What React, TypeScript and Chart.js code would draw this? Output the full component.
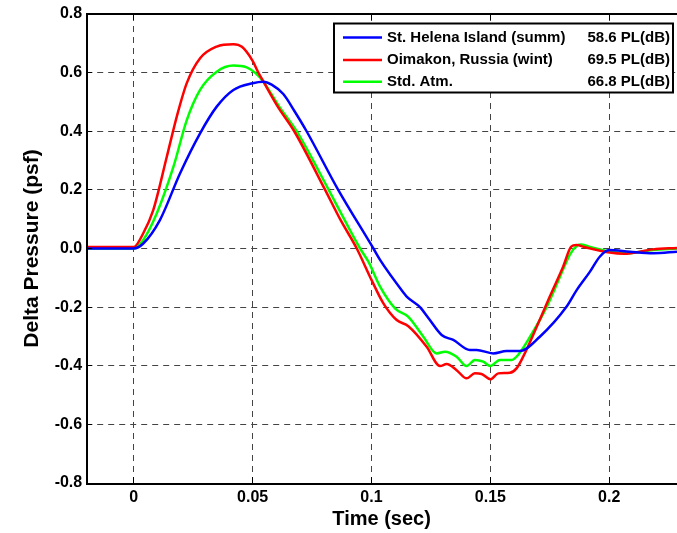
import React, { useEffect, useRef } from 'react';
import { Chart, registerables } from 'chart.js';

Chart.register(...registerables);

// ---- Axis ticks ----
const xTicks = [0, 0.05, 0.1, 0.15, 0.2];
const xTickLabels = ['0', '0.05', '0.1', '0.15', '0.2'];
const yTicks = [-0.8, -0.6, -0.4, -0.2, 0, 0.2, 0.4, 0.6, 0.8];

// ---- Legend ----
const seriesNames = ['St. Helena Island (summ)', 'Oimakon, Russia (wint)', 'Std. Atm.'];
const seriesLevels = ['58.6 PL(dB)', '69.5 PL(dB)', '66.8 PL(dB)'];
const seriesColors = ['#0000ff', '#ff0000', '#00ff00'];

// ---- St. Helena Island (summer) ----
const timeHelena = [-0.02, 0, 0.004, 0.011, 0.0195, 0.0279, 0.0349, 0.0419, 0.05, 0.0545, 0.058, 0.0629, 0.0675, 0.0727, 0.086, 0.1008, 0.1036, 0.1134, 0.1148, 0.1204, 0.124, 0.1295, 0.1344, 0.1414, 0.1442, 0.1512, 0.1568, 0.1624, 0.1708, 0.182, 0.1863, 0.1919, 0.196, 0.2, 0.2087, 0.2185, 0.2285];
const presHelena = [0, 0, 0.017, 0.097, 0.257, 0.393, 0.484, 0.541, 0.564, 0.569, 0.559, 0.527, 0.47, 0.4, 0.2, 0, -0.039, -0.15, -0.164, -0.2, -0.238, -0.295, -0.312, -0.346, -0.346, -0.358, -0.35, -0.35, -0.301, -0.199, -0.142, -0.079, -0.028, -0.005, -0.011, -0.016, -0.011];

// ---- Oimakon, Russia (winter) ----
const timeOimakon = [-0.02, 0, 0.004, 0.0082, 0.0139, 0.0181, 0.0223, 0.0279, 0.0349, 0.0419, 0.0455, 0.05, 0.0524, 0.0545, 0.0605, 0.0675, 0.0805, 0.0868, 0.0938, 0.1, 0.105, 0.1106, 0.1155, 0.1232, 0.1288, 0.1316, 0.1358, 0.14, 0.1435, 0.1463, 0.15, 0.1533, 0.1582, 0.161, 0.1638, 0.1695, 0.175, 0.1806, 0.184, 0.1862, 0.19, 0.2003, 0.206, 0.2185, 0.2285];
const presOimakon = [0.005, 0.005, 0.052, 0.131, 0.313, 0.45, 0.564, 0.649, 0.689, 0.697, 0.688, 0.64, 0.6, 0.57, 0.485, 0.4, 0.2, 0.1, 0, -0.107, -0.187, -0.244, -0.265, -0.335, -0.401, -0.394, -0.415, -0.443, -0.426, -0.428, -0.446, -0.426, -0.424, -0.409, -0.369, -0.267, -0.164, -0.062, 0.006, 0.012, 0.004, -0.014, -0.018, -0.003, 0.002];

// ---- Std. Atm. ----
const timeStd = [-0.02, 0, 0.004, 0.0097, 0.0167, 0.0223, 0.0279, 0.0349, 0.0419, 0.0475, 0.051, 0.0545, 0.0615, 0.0685, 0.082, 0.0885, 0.0952, 0.0987, 0.1036, 0.11, 0.1155, 0.1218, 0.1274, 0.1309, 0.1358, 0.14, 0.1435, 0.147, 0.15, 0.154, 0.159, 0.1617, 0.1667, 0.1737, 0.1793, 0.1835, 0.1865, 0.1884, 0.192, 0.2003, 0.2073, 0.2185, 0.2285];
const presStd = [0, 0, 0.029, 0.12, 0.279, 0.438, 0.541, 0.603, 0.624, 0.618, 0.6, 0.569, 0.48, 0.4, 0.2, 0.1, 0, -0.045, -0.13, -0.205, -0.233, -0.301, -0.358, -0.352, -0.369, -0.401, -0.38, -0.386, -0.401, -0.38, -0.38, -0.363, -0.301, -0.199, -0.096, -0.02, 0.01, 0.014, 0.005, -0.011, -0.016, -0.005, 0];

const FONT = "'Liberation Sans', Arial, Helvetica, sans-serif";

const toPoints = (t: number[], p: number[]) => t.map((v, i) => ({ x: v, y: p[i] }));

const matlabPlugin = {
  id: 'matlabFrame',
  beforeDatasetsDraw(chart: any) {
    const { ctx, chartArea: a, scales } = chart;
    const x = scales.x;
    const y = scales.y;
    ctx.save();
    ctx.strokeStyle = '#444';
    ctx.lineWidth = 1;
    ctx.setLineDash([6, 5]);
    xTicks.forEach((v) => {
      const px = Math.floor(x.getPixelForValue(v)) + 0.5;
      ctx.beginPath();
      ctx.moveTo(px, a.bottom);
      ctx.lineTo(px, a.top);
      ctx.stroke();
    });
    yTicks.forEach((v) => {
      const py = Math.floor(y.getPixelForValue(v)) + 0.5;
      ctx.beginPath();
      ctx.moveTo(a.left, py);
      ctx.lineTo(a.right, py);
      ctx.stroke();
    });
    ctx.restore();
  },
  afterDatasetsDraw(chart: any) {
    const { ctx, chartArea: a, scales } = chart;
    const x = scales.x;
    const y = scales.y;
    ctx.save();
    ctx.setLineDash([]);
    ctx.strokeStyle = '#000';
    // tick marks (inward)
    ctx.lineWidth = 1;
    const tl = 6;
    xTicks.forEach((v) => {
      const px = Math.floor(x.getPixelForValue(v)) + 0.5;
      ctx.beginPath();
      ctx.moveTo(px, a.bottom);
      ctx.lineTo(px, a.bottom - tl);
      ctx.moveTo(px, a.top);
      ctx.lineTo(px, a.top + tl);
      ctx.stroke();
    });
    yTicks.forEach((v) => {
      const py = Math.floor(y.getPixelForValue(v)) + 0.5;
      ctx.beginPath();
      ctx.moveTo(a.left, py);
      ctx.lineTo(a.left + tl, py);
      ctx.stroke();
    });
    // frame
    ctx.lineWidth = 2;
    const left = Math.round(a.left) + 1;
    const top = Math.round(a.top);
    const bottom = Math.round(a.bottom) + 1;
    ctx.beginPath();
    ctx.moveTo(a.right + 2, top);
    ctx.lineTo(left, top);
    ctx.lineTo(left, bottom);
    ctx.lineTo(a.right + 2, bottom);
    ctx.stroke();

    // legend
    const bx = 334, by = 23.5, bw = 339, bh = 69;
    ctx.fillStyle = '#fff';
    ctx.fillRect(bx, by, bw, bh);
    ctx.lineWidth = 2;
    ctx.strokeStyle = '#000';
    ctx.strokeRect(bx, by, bw, bh);
    const rows = [37.5, 60, 81.7];
    ctx.font = `bold 15px ${FONT}`;
    ctx.textBaseline = 'middle';
    rows.forEach((ry, i) => {
      ctx.strokeStyle = seriesColors[i];
      ctx.lineWidth = 2.5;
      ctx.beginPath();
      ctx.moveTo(343, ry);
      ctx.lineTo(382, ry);
      ctx.stroke();
      ctx.fillStyle = '#000';
      ctx.textAlign = 'left';
      ctx.fillText(seriesNames[i], 387, ry);
      ctx.textAlign = 'right';
      ctx.fillText(seriesLevels[i], 670, ry);
    });
    ctx.restore();
  },
};

export default function App() {
  const canvasRef = useRef<HTMLCanvasElement | null>(null);

  useEffect(() => {
    const canvas = canvasRef.current;
    if (!canvas) return;
    const datasetDefs = [
      { label: seriesNames[0], t: timeHelena, p: presHelena },
      { label: seriesNames[1], t: timeOimakon, p: presOimakon },
      { label: seriesNames[2], t: timeStd, p: presStd },
    ];
    const chart = new Chart(canvas, {
      type: 'line',
      data: {
        datasets: datasetDefs.map((d, i) => ({
          label: d.label,
          data: toPoints(d.t, d.p),
          borderColor: seriesColors[i],
          backgroundColor: seriesColors[i],
          borderWidth: 2.5,
          pointRadius: 0,
          fill: false,
          cubicInterpolationMode: 'monotone' as const,
        })),
      },
      options: {
        animation: false,
        responsive: false,
        devicePixelRatio: 1,
        layout: { padding: { top: 14, right: 0, bottom: 0, left: 0 } },
        plugins: {
          legend: { display: false },
          tooltip: { enabled: false },
        },
        scales: {
          x: {
            type: 'linear',
            min: -0.02,
            max: 0.2285,
            grid: { display: false, drawTicks: false },
            border: { display: false },
            afterBuildTicks: (s: any) => {
              s.ticks = xTicks.map((v) => ({ value: v }));
            },
            afterFit: (s: any) => {
              s.height = 50;
              s.paddingLeft = 0;
              s.paddingRight = 0;
            },
            ticks: {
              color: '#000',
              padding: 5,
              autoSkip: false,
              maxRotation: 0,
              font: { family: FONT, size: 16, weight: 'bold' },
              callback: (v: any) => {
                const idx = xTicks.findIndex((t) => Math.abs(t - Number(v)) < 1e-9);
                return idx >= 0 ? xTickLabels[idx] : '';
              },
            },
            title: {
              display: true,
              text: 'Time (sec)',
              color: '#000',
              font: { family: FONT, size: 20, weight: 'bold' },
              padding: { top: 0, bottom: 2 },
            },
          },
          y: {
            type: 'linear',
            min: -0.8,
            max: 0.8,
            grid: { display: false, drawTicks: false },
            border: { display: false },
            afterBuildTicks: (s: any) => {
              s.ticks = yTicks.map((v) => ({ value: v }));
            },
            afterFit: (s: any) => {
              s.width = 86.2;
              s.paddingTop = 0;
              s.paddingBottom = 0;
            },
            ticks: {
              color: '#000',
              padding: 4,
              autoSkip: false,
              font: { family: FONT, size: 16, weight: 'bold' },
              callback: (v: any) => Number(v).toFixed(1),
            },
            title: {
              display: true,
              text: 'Delta Pressure (psf)',
              color: '#000',
              font: { family: FONT, size: 21, weight: 'bold' },
              padding: { top: 20, bottom: 0 },
            },
          },
        },
      },
      plugins: [matlabPlugin],
    });
    return () => chart.destroy();
  }, []);

  return (
    <div style={{ position: 'fixed', left: 0, top: 0, width: 677, height: 533, background: '#fff' }}>
      <canvas ref={canvasRef} width={677} height={533} style={{ display: 'block' }} />
    </div>
  );
}
